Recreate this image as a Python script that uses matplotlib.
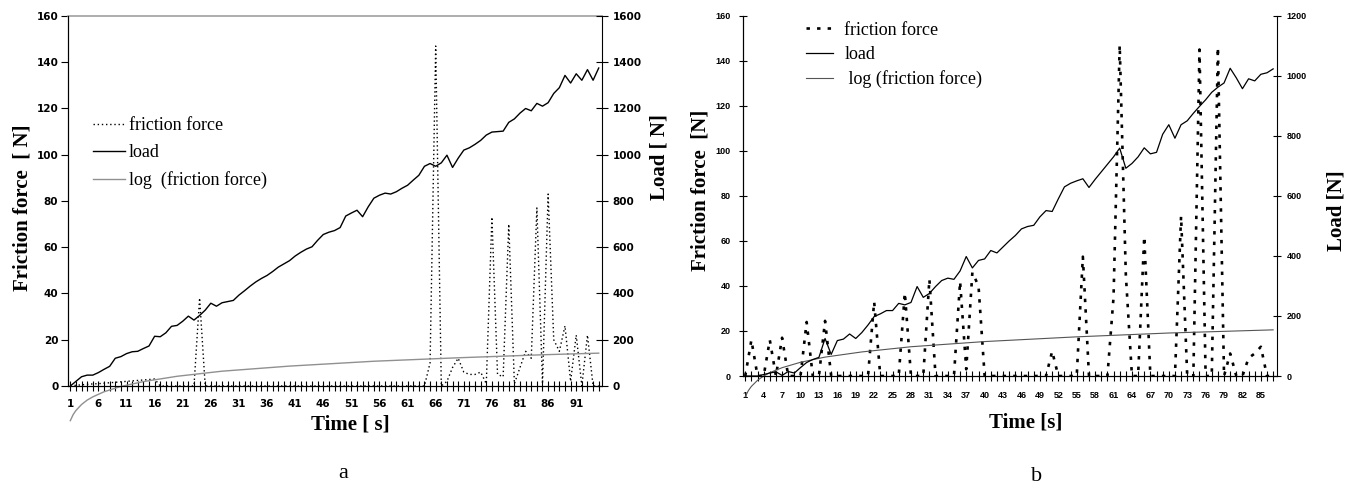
import numpy as np
import matplotlib
matplotlib.use("Agg")
import matplotlib.pyplot as plt

# ---- panel a data (time in s, friction force in N, load in N) ----
time_a = list(range(1, 96))
friction_a = [0, 0.3, 0.5, 0.7, 0.9, 1.0, 1.2, 1.4, 1.6, 1.8,
              2.0, 2.2, 2.4, 2.6, 2.8, 3.0, 0, 0, 0, 0,
              0, 0, 0, 38, 0, 0, 0, 0, 0, 0,
              0, 0, 0, 0, 0, 0, 0, 0, 0, 0,
              0, 0, 0, 0, 0, 0, 0, 0, 0, 0,
              0, 0, 0, 0, 0, 0, 0, 0, 0, 0,
              0, 0, 0, 0, 10, 147, 0, 2, 8, 12,
              6, 5, 5, 6, 1, 73, 5, 4, 70, 1,
              8, 15, 12, 77, 1, 83, 20, 15, 26, 2,
              22, 0, 22, 0, 0]
load_a = [0, 20, 40, 47, 47, 58, 72, 85, 120, 127,
          140, 148, 150, 162, 173, 215, 213, 230, 258, 262,
          280, 302, 285, 305, 328, 358, 345, 360, 365, 370,
          393, 412, 432, 450, 465, 478, 495, 514, 528, 542,
          562, 578, 592, 602, 630, 655, 665, 672, 685, 735,
          748, 760, 732, 775, 812, 825, 834, 830, 840, 855,
          868, 890, 911, 950, 962, 950, 965, 998, 945, 985,
          1020, 1030, 1045, 1062, 1085, 1098, 1100, 1102, 1140, 1155,
          1180, 1200, 1190, 1222, 1210, 1225, 1265, 1290, 1343, 1310,
          1350, 1322, 1368, 1322, 1375]
trend_t_a = [1, 1.5, 2, 3, 4, 5, 7, 10, 14, 20, 28, 40, 55, 70, 85, 95]
trend_a = [-15, -12.4, -10.6, -8.0, -6.1, -4.7, -2.5, -0.2, 1.9, 4.2,
           6.4, 8.6, 10.7, 12.2, 13.5, 14.2]

# ---- panel b data ----
time_b = list(range(1, 88))
friction_b = [0, 16, 0, 0, 16, 0, 17, 0, 0, 0,
              24, 0, 0, 24.5, 0, 0, 0, 0, 0, 0,
              0, 33, 0, 0, 0, 0, 37, 0, 0, 0,
              43, 0, 0, 0, 0, 42, 3, 46, 40, 0,
              0, 0, 0, 0, 0, 0, 0, 0, 0, 0,
              11, 0, 0, 0, 0, 53, 0, 0, 0, 0,
              35, 147, 45, 0, 0, 62, 0, 0, 0, 0,
              0, 71, 0, 0, 145, 0, 0, 146, 0, 10,
              0, 0, 8, 10, 13, 0, 0]
load_b = [0, 0, 0, 5, 10, 14, 2, 15, 10, 28,
          45, 55, 62, 125, 72, 118, 123, 140, 125, 145,
          170, 198, 207, 218, 218, 242, 237, 245, 298, 262,
          275, 298, 318, 326, 322, 350, 398, 360, 385, 390,
          418, 410, 430, 450, 468, 490, 498, 502, 530, 551,
          548, 590, 630, 642, 650, 657, 628, 655, 680, 705,
          730, 759, 692, 708, 730, 760, 740, 745, 805, 837,
          792, 837, 850, 875, 898, 920, 945, 962, 976, 1025,
          993, 957, 990, 983, 1005, 1010, 1023]
trend_t_b = [1, 1.5, 2, 3, 4, 5, 7, 10, 14, 20, 28, 40, 55, 70, 87]
trend_b = [-9.2, -6.5, -4.6, -1.9, 0.0, 1.5, 3.7, 6.1, 8.4, 10.7,
           13.0, 15.3, 17.4, 19.1, 20.5]

serif = "Liberation Serif"

fig = plt.figure(figsize=(13.53, 4.84), dpi=100)

# ================= panel a =================
ax1 = fig.add_axes([0.0503, 0.2025, 0.3947, 0.7645])
ax1b = ax1.twinx()

l1, = ax1.plot(time_a, friction_a, color="black", lw=1.0, linestyle=(0, (1, 2)))
l3, = ax1.plot(trend_t_a, trend_a, color="#909090", lw=1.0, clip_on=False)
l2, = ax1b.plot(time_a, load_a, color="black", lw=1.0)

ax1.set_xlim(0.6, 95.6)
ax1.set_ylim(0, 160)
ax1b.set_ylim(0, 1600)
ax1.set_yticks(range(0, 161, 20))
ax1b.set_yticks(range(0, 1601, 200))
ax1.set_xticks(time_a)
ax1.set_xticklabels([str(t) if (t - 1) % 5 == 0 else "" for t in time_a])

tick_font_a = dict(family="DejaVu Sans", weight="bold", size=7.5)
for lab in ax1.get_xticklabels() + ax1.get_yticklabels() + ax1b.get_yticklabels():
    lab.set_fontproperties(matplotlib.font_manager.FontProperties(**tick_font_a))

ax1.tick_params(axis="x", direction="inout", length=7, width=0.8, pad=6)
ax1.tick_params(axis="y", direction="out", length=5, width=0.8, pad=2)
ax1b.tick_params(axis="y", direction="inout", length=8, width=0.8, pad=3.5)

ax1.spines["top"].set_color("#a0a0a0")
ax1.spines["top"].set_linewidth(1.2)
ax1b.spines["top"].set_visible(False)
ax1.spines["right"].set_visible(False)

ax1.set_ylabel("Friction force  [ N]", family=serif, weight="bold", size=15, va="center")
ax1.yaxis.set_label_coords(-0.086, 0.481)
ax1b.set_ylabel("Load [ N]", family=serif, weight="bold", size=15, va="center")
ax1b.yaxis.set_label_coords(1.108, 0.62)
ax1.set_xlabel("Time [ s]", family=serif, weight="bold", size=15, va="center")
ax1.xaxis.set_label_coords(0.528, -0.105)

ax1.legend([l1, l2, l3], ["friction force", "load", "log  (friction force)"],
           loc="upper left", bbox_to_anchor=(0.0687, 0.758), bbox_transform=fig.transFigure,
           frameon=False, borderpad=0, borderaxespad=0, handlelength=1.8,
           handletextpad=0.2, labelspacing=0.55, prop=dict(family=serif, size=13))

fig.text(0.2535, 0.0227, "a", family=serif, size=16, ha="center", va="center")

# ================= panel b =================
ax2 = fig.add_axes([0.549, 0.2231, 0.3947, 0.7444])
ax2b = ax2.twinx()

m1, = ax2.plot(time_b, friction_b, color="black", lw=1.9, linestyle=(0, (1.3, 2.7)))
m3, = ax2.plot(trend_t_b, trend_b, color="#555555", lw=0.8, clip_on=False)
m2, = ax2b.plot(time_b, load_b, color="black", lw=0.9)

ax2.set_xlim(0.6, 87.6)
ax2.set_ylim(0, 160)
ax2b.set_ylim(0, 1200)
ax2.set_yticks(range(0, 161, 20))
ax2b.set_yticks(range(0, 1201, 200))
ax2.set_xticks(time_b)
ax2.set_xticklabels([str(t) if (t - 1) % 3 == 0 else "" for t in time_b])

tick_font_b = dict(family="Liberation Sans", weight="bold", size=6.5)
for lab in ax2.get_xticklabels() + ax2.get_yticklabels() + ax2b.get_yticklabels():
    lab.set_fontproperties(matplotlib.font_manager.FontProperties(**tick_font_b))

ax2.tick_params(axis="x", direction="inout", length=7, width=0.8, pad=7)
ax2.tick_params(axis="y", direction="inout", length=6, width=0.8, pad=5.5)
ax2b.tick_params(axis="y", direction="inout", length=6, width=0.8, pad=4)

for sp in ["top", "right"]:
    ax2.spines[sp].set_visible(False)
ax2b.spines["top"].set_visible(False)

ax2.set_ylabel("Friction force  [N]", family=serif, weight="bold", size=15, va="center")
ax2.yaxis.set_label_coords(-0.080, 0.516)
ax2b.set_ylabel("Load [N]", family=serif, weight="bold", size=15, va="center")
ax2b.yaxis.set_label_coords(1.111, 0.458)
ax2.set_xlabel("Time [s]", family=serif, weight="bold", size=15, va="center")
ax2.xaxis.set_label_coords(0.529, -0.128)

ax2.legend([m1, m2, m3], ["friction force", "load", " log (friction force)"],
           loc="upper left", bbox_to_anchor=(0.596, 0.955), bbox_transform=fig.transFigure,
           frameon=False, borderpad=0, borderaxespad=0, handlelength=1.45,
           handletextpad=0.65, labelspacing=0.4, prop=dict(family=serif, size=13))

fig.text(0.7664, 0.0165, "b", family=serif, size=16, ha="center", va="center")

fig.savefig("out.png", dpi=100)
